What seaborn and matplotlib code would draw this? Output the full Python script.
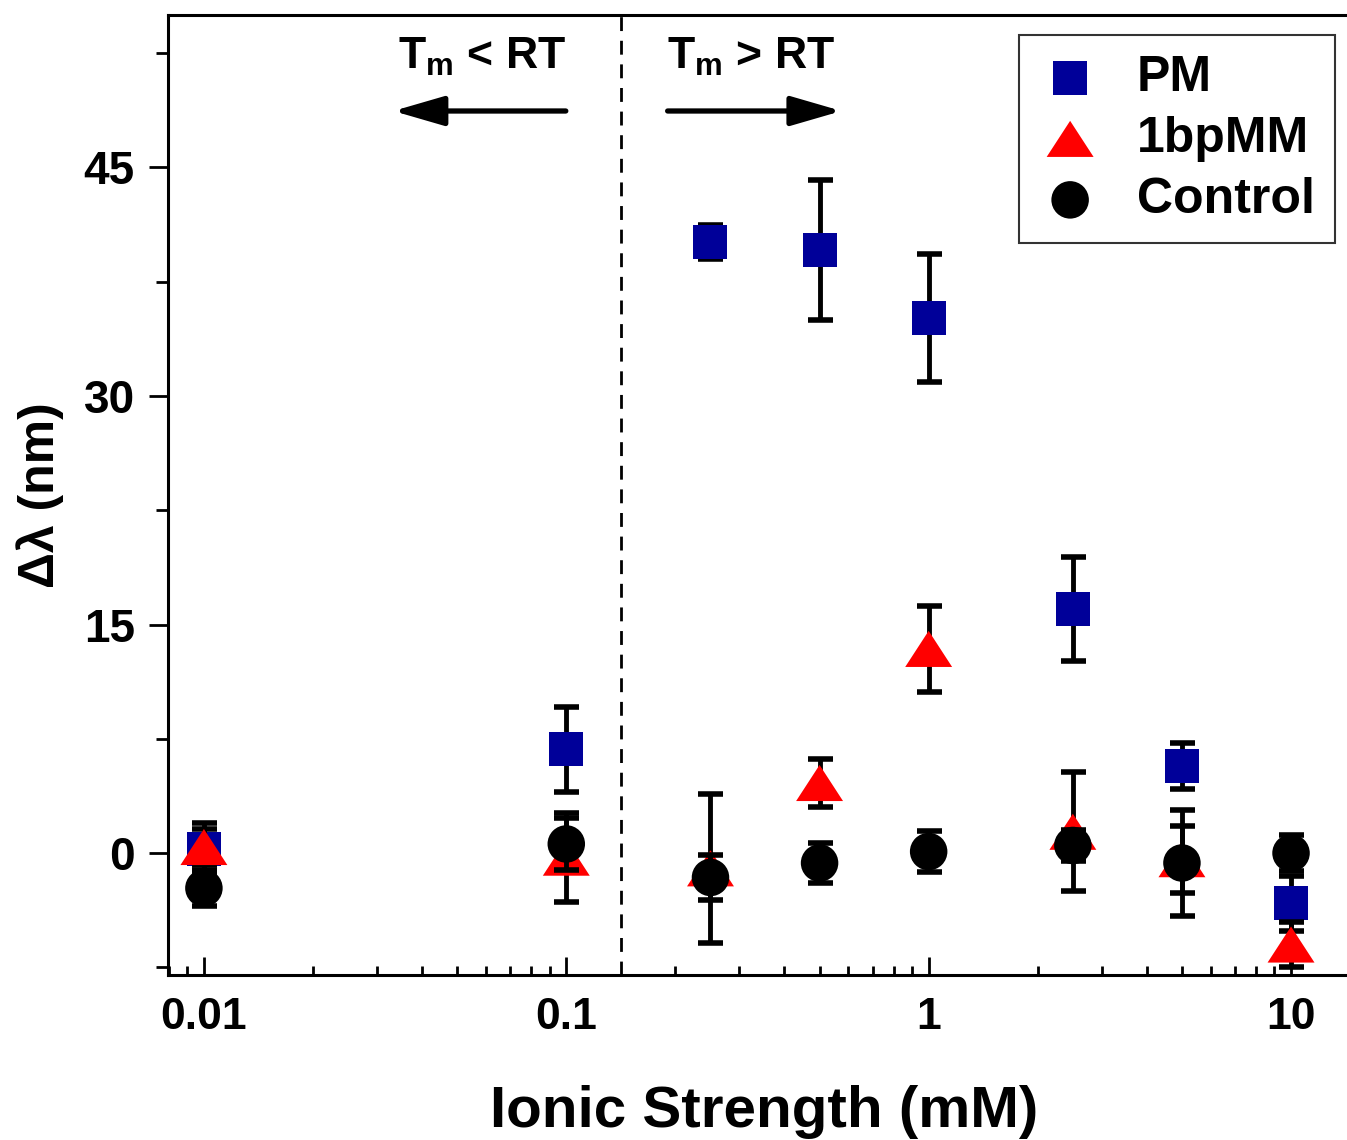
import numpy as np
import pandas as pd
import seaborn as sns
import matplotlib.pyplot as plt
from matplotlib.ticker import FixedLocator, FixedFormatter, LogLocator, NullFormatter, MultipleLocator

# donnees
ionic = [0.01, 0.1, 0.25, 0.5, 1, 2.5, 5, 10]
pm = [0.3, 6.8, 40.1, 39.6, 35.1, 16.0, 5.7, -3.3]
pm_err = [1.7, 2.8, 1.1, 4.6, 4.2, 3.4, 1.5, 1.8]
mm = [0.4, -0.3, -1.0, 4.6, 13.4, 1.4, -0.4, -6.0]
mm_err = [1.2, 2.9, 4.9, 1.6, 2.8, 3.9, 2.2, 1.5]
ctrl = [-2.3, 0.6, -1.6, -0.65, 0.1, 0.5, -0.65, 0.0]
ctrl_err = [1.2, 1.7, 1.5, 1.3, 1.35, 1.0, 3.5, 1.2]

series_names = ["PM", "1bpMM", "Control"]
x_ticks = [0.01, 0.1, 1, 10]
x_labels = ["0.01", "0.1", "1", "10"]
y_ticks = [0, 15, 30, 45]

sns.set_style("ticks")
plt.rcParams['font.family'] = ['Liberation Sans', 'DejaVu Sans']
plt.rcParams['font.weight'] = 'bold'
plt.rcParams['text.color'] = 'black'
plt.rcParams['axes.labelcolor'] = 'black'
plt.rcParams['xtick.color'] = 'black'
plt.rcParams['ytick.color'] = 'black'

fig = plt.figure(figsize=(13.47, 11.4), dpi=100)
ax = fig.add_axes([168/1347, 165/1140, (1360-168)/1347, 960/1140])

tri = [(0, 1), (-1.3, -1), (1.3, -1)]
styles = [("s", "#000099", 600), (tri, "#ff0000", 1142), ("o", "black", 729)]
values = [(pm, pm_err), (mm, mm_err), (ctrl, ctrl_err)]

for i, name in enumerate(series_names):
    y, e = values[i]
    m, c, s = styles[i]
    ax.errorbar(ionic, y, yerr=e, fmt="none", ecolor="black", elinewidth=3.5,
                capsize=9, capthick=4, zorder=2 + 2*i)
    sns.scatterplot(x=ionic, y=y, marker=m, color=c, s=s, edgecolor="none",
                    linewidth=0, label=name, ax=ax, zorder=3 + 2*i)

ax.set_xscale("log")
ax.set_xlim(0.00796, 15.5)
ax.set_ylim(-8, 55)

ax.xaxis.set_major_locator(FixedLocator(x_ticks))
ax.xaxis.set_major_formatter(FixedFormatter(x_labels))
ax.xaxis.set_minor_locator(LogLocator(base=10, subs=np.arange(2, 10)))
ax.xaxis.set_minor_formatter(NullFormatter())
ax.yaxis.set_major_locator(FixedLocator(y_ticks))
ax.yaxis.set_minor_locator(MultipleLocator(7.5))

ax.tick_params(axis="x", which="major", direction="in", length=13, width=2,
               labelsize=32, pad=16)
ax.tick_params(axis="x", which="minor", direction="in", length=6.5, width=2)
ax.tick_params(axis="y", which="major", direction="out", length=14, width=2,
               labelsize=33, pad=10)
ax.tick_params(axis="y", which="minor", direction="out", length=9, width=2)
for sp in ax.spines.values():
    sp.set_linewidth(2.2)
    sp.set_color("black")

ax.set_xlabel("Ionic Strength (mM)", fontsize=42, fontweight="bold", labelpad=34)
ax.set_ylabel("Δλ (nm)", fontsize=36, fontweight="bold", labelpad=14)

# ligne de separation et annotations
ax.axvline(0.142, color="black", ls=(0, (5, 3.5)), lw=2, zorder=1)
ax.text(0.0586, 51.5, r"T$_\mathregular{m}$ < RT", fontsize=32, fontweight="bold",
        ha="center", va="baseline")
ax.text(0.323, 51.5, r"T$_\mathregular{m}$ > RT", fontsize=32, fontweight="bold",
        ha="center", va="baseline")
arrow = dict(arrowstyle="-|>,head_length=1.55,head_width=0.45", lw=3.8, color="black",
             mutation_scale=20, shrinkA=0, shrinkB=0)
ax.annotate("", xy=(0.0333, 48.7), xytext=(0.0997, 48.7), arrowprops=arrow)
ax.annotate("", xy=(0.575, 48.7), xytext=(0.1904, 48.7), arrowprops=arrow)

leg = ax.legend(loc="upper right", bbox_to_anchor=(1335/1347, 1 - 35/1140),
                bbox_transform=fig.transFigure, borderaxespad=0, fancybox=False,
                frameon=True, edgecolor="0.2", framealpha=1,
                prop={"size": 36, "weight": "bold"}, labelspacing=0.3,
                handlelength=1.24, handletextpad=0.72, borderpad=0.4)
leg.get_frame().set_linewidth(1.5)

fig.savefig("out.png", dpi=100)
